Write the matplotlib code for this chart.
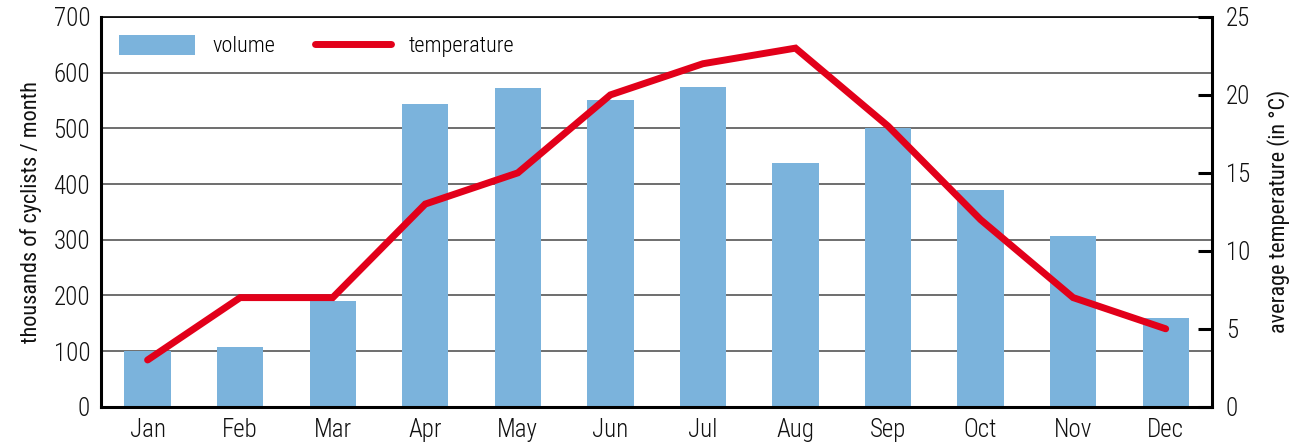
import numpy as np
import matplotlib.pyplot as plt

months = ['Jan', 'Feb', 'Mar', 'Apr', 'May', 'Jun', 'Jul', 'Aug', 'Sep', 'Oct', 'Nov', 'Dec']
volume = [100, 108, 190, 543, 572, 551, 574, 437, 500, 389, 306, 160]
temperature = [3, 7, 7, 13, 15, 20, 22, 23, 18, 12, 7, 5]

plt.rcParams['font.family'] = ['Roboto Condensed', 'Archivo Narrow', 'DejaVu Sans']
plt.rcParams['font.weight'] = 'light'

bar_color = '#7bb3dc'
line_color = '#e2001a'

fig, ax = plt.subplots(figsize=(12.99, 4.46), dpi=100)
fig.subplots_adjust(left=0.078, right=0.933, top=0.962, bottom=0.088)

x = np.arange(len(months))
bars = ax.bar(x, volume, width=0.5, color=bar_color, zorder=2, label='volume')
ax.set_xlim(-0.5, len(months) - 0.5)
ax.set_ylim(0, 700)
ax.set_yticks(range(0, 701, 100))
ax.yaxis.grid(True, color='#555555', linewidth=1.2, zorder=0)
ax.set_axisbelow(True)
ax.set_xticks(x)
ax.set_xticklabels(months)
ax.tick_params(axis='both', length=0, labelsize=18, pad=8, colors='#111111')
ax.set_ylabel('thousands of cyclists / month', fontsize=16, labelpad=8, color='#111111')
for s in ['left', 'bottom']:
    ax.spines[s].set_linewidth(2.2)
ax.spines['top'].set_linewidth(1.2)
ax.spines['right'].set_visible(False)

ax2 = ax.twinx()
line, = ax2.plot(x, temperature, color=line_color, linewidth=5,
                 solid_capstyle='round', solid_joinstyle='miter', zorder=3, label='temperature')
ax2.set_ylim(0, 25)
ax2.set_yticks(range(0, 26, 5))
ax2.tick_params(axis='y', direction='in', length=10, width=2.2, labelsize=18, pad=10,
                labelcolor='#111111')
ax2.spines['right'].set_linewidth(2.2)
for s in ['left', 'top', 'bottom']:
    ax2.spines[s].set_visible(False)
ax2.set_ylabel('average temperature (in °C)', fontsize=16, labelpad=12, color='#111111')

ax2.legend([bars, line], ['volume', 'temperature'], loc='upper left', ncol=2,
           frameon=False, fontsize=16, handlelength=3.4, handleheight=1.0,
           columnspacing=1.8, handletextpad=0.8, bbox_to_anchor=(0.0, 1.0),
           borderaxespad=0.4)

fig.savefig('out.png', dpi=100)
